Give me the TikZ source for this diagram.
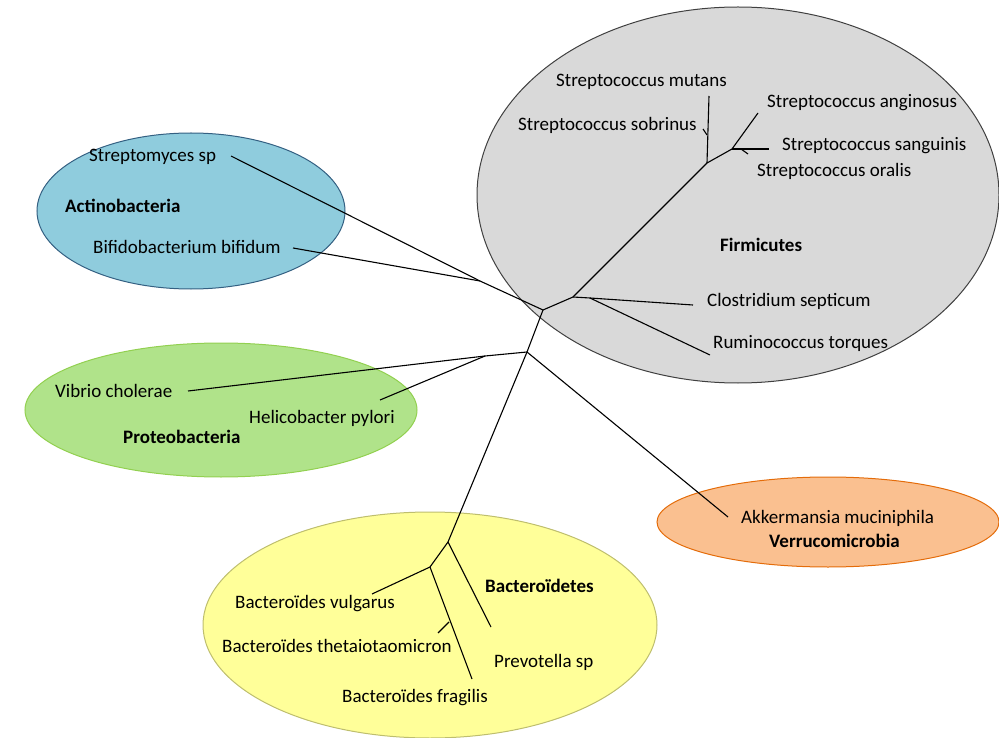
\documentclass[tikz,border=0pt]{standalone}
\usepackage{fontspec}
\setmainfont{Carlito}
\usepackage{tikz}

\definecolor{firmfill}{RGB}{217,217,217}
\definecolor{firmline}{RGB}{64,64,64}
\definecolor{actifill}{RGB}{143,204,221}
\definecolor{actiline}{RGB}{52,96,130}
\definecolor{protfill}{RGB}{176,227,138}
\definecolor{protline}{RGB}{146,208,80}
\definecolor{verrfill}{RGB}{250,192,144}
\definecolor{verrline}{RGB}{228,108,10}
\definecolor{bactfill}{RGB}{255,255,153}
\definecolor{bactline}{RGB}{190,190,110}

\tikzset{
	group/.style = {line width = 1pt},
	branch/.style = {black, line width = 1.1pt},
	taxon/.style = {inner sep = 0pt, anchor = base west, font = \fontsize{19}{22}\selectfont},
	phylum/.style = {taxon, font = \fontsize{19}{22}\selectfont\bfseries},
}

\begin{document}
\begin{tikzpicture}[x = 1pt, y = -1pt]
	\useasboundingbox (0,0) rectangle (999,738);
	
	% phylum groups
	\filldraw[group, fill = firmfill, draw = firmline] (738,195) ellipse [x radius = 261pt, y radius = 188pt];
	\filldraw[group, fill = actifill, draw = actiline] (191,211) ellipse [x radius = 154pt, y radius = 78pt];
	\filldraw[group, fill = protfill, draw = protline] (221,410) ellipse [x radius = 196pt, y radius = 67pt];
	\filldraw[group, fill = verrfill, draw = verrline] (828,522) ellipse [x radius = 171pt, y radius = 45pt];
	\filldraw[group, fill = bactfill, draw = bactline] (430,625) ellipse [x radius = 227pt, y radius = 113pt];
	
	% inner nodes of the tree
	\coordinate (a) at (543,310);
	\coordinate (b) at (573,297);
	\coordinate (c) at (527,352);
	\coordinate (acti) at (480,281);
	\coordinate (strep) at (707,163);
	\coordinate (strep2) at (732,149);
	\coordinate (clos) at (590,298);
	\coordinate (prot) at (485,356);
	\coordinate (bact) at (448,542);
	\coordinate (bact2) at (430,567);
	
	% leaves
	\coordinate (smutans) at (709,96);
	\coordinate (ssobrinus) at (707,135);
	\coordinate (ssobrinus2) at (703,129);
	\coordinate (sanginosus) at (758,113);
	\coordinate (ssanguinis) at (769,149);
	\coordinate (soralis) at (741,149);
	\coordinate (soralis2) at (748,154);
	\coordinate (cseptic) at (693,305);
	\coordinate (rtorques) at (710,355);
	\coordinate (streptomyces) at (231,156);
	\coordinate (bifido) at (293,248);
	\coordinate (vibrio) at (188,391);
	\coordinate (helico) at (380,400);
	\coordinate (akker) at (728,517);
	\coordinate (prevo) at (491,627);
	\coordinate (bvulg) at (372,594);
	\coordinate (bfrag) at (472,679);
	\coordinate (btheta) at (449,622);
	\coordinate (btheta2) at (438,633);
	
	% branches
	\draw[branch] (streptomyces) -- (acti) -- (a);
	\draw[branch] (bifido) -- (acti);
	\draw[branch] (a) -- (b) -- (strep);
	\draw[branch] (strep) -- (smutans);
	\draw[branch] (ssobrinus) -- (ssobrinus2);
	\draw[branch] (strep) -- (strep2) -- (sanginosus);
	\draw[branch] (strep2) -- (ssanguinis);
	\draw[branch] (soralis) -- (soralis2);
	\draw[branch] (b) -- (clos) -- (cseptic);
	\draw[branch] (clos) -- (rtorques);
	\draw[branch] (a) -- (c) -- (bact);
	\draw[branch] (c) -- (prot) -- (vibrio);
	\draw[branch] (prot) -- (helico);
	\draw[branch] (c) -- (akker);
	\draw[branch] (bact) -- (prevo);
	\draw[branch] (bact) -- (bact2) -- (bvulg);
	\draw[branch] (bact2) -- (bfrag);
	\draw[branch] (btheta) -- (btheta2);
	
	% Firmicutes
	\node[taxon] (tmutans) at (556,87) {Streptococcus mutans};
	\node[taxon] (tsobrinus) at (518,131) {Streptococcus sobrinus};
	\node[taxon] (tanginosus) at (767,108) {Streptococcus anginosus};
	\node[taxon] (tsanguinis) at (782,151) {Streptococcus sanguinis};
	\node[taxon] (toralis) at (757,177) {Streptococcus oralis};
	\node[phylum] (tfirm) at (720,252) {Firmicutes};
	\node[taxon] (tseptic) at (707,306) {Clostridium septicum};
	\node[taxon] (ttorques) at (713,348) {Ruminococcus torques};
	
	% Actinobacteria
	\node[taxon] (tstreptomyces) at (89,162) {Streptomyces sp};
	\node[phylum] (tacti) at (65,213) {Actinobacteria};
	\node[taxon] (tbifido) at (93,254) {Bifidobacterium bifidum};
	
	% Proteobacteria
	\node[taxon] (tvibrio) at (55,397) {Vibrio cholerae};
	\node[taxon] (thelico) at (249,423) {Helicobacter pylori};
	\node[phylum] (tprot) at (123,443) {Proteobacteria};
	
	% Verrucomicrobia
	\node[taxon] (takker) at (741,523) {Akkermansia muciniphila};
	\node[phylum] (tverr) at (769,547) {Verrucomicrobia};
	
	% Bacteroidetes
	\node[phylum] (tbact) at (485,592) {Bacteroïdetes};
	\node[taxon] (tvulg) at (235,608) {Bacteroïdes vulgarus};
	\node[taxon] (ttheta) at (222,652) {Bacteroïdes thetaiotaomicron};
	\node[taxon] (tprevo) at (494,667) {Prevotella sp};
	\node[taxon] (tfrag) at (342,702) {Bacteroïdes fragilis};
	
\end{tikzpicture}
\end{document}
